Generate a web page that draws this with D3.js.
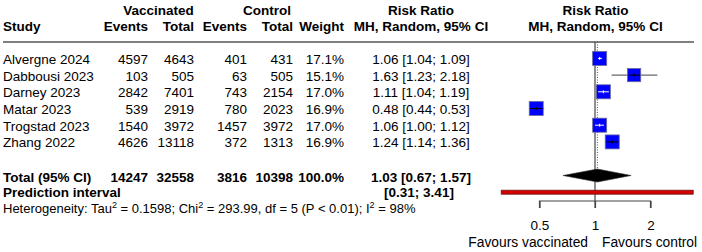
<!DOCTYPE html>
<html><head><meta charset="utf-8">
<script src="https://cdn.jsdelivr.net/npm/d3@7"></script>
<style>body{margin:0;background:#fff}svg{display:block;font-family:"Liberation Sans",Arial,sans-serif}</style>
</head><body><svg id="c" width="702" height="252"></svg>
<script>
const studies = ["Alvergne 2024","Dabbousi 2023","Darney 2023","Matar 2023","Trogstad 2023","Zhang 2022"];
const vacEvents = [4597,103,2842,539,1540,4626];
const vacTotal = [4643,505,7401,2919,3972,13118];
const ctlEvents = [401,63,743,780,1457,372];
const ctlTotal = [431,505,2154,2023,3972,1313];
const weights = [17.1,15.1,17.0,16.9,17.0,16.9];
const rr = [1.06,1.63,1.11,0.48,1.06,1.24];
const lo = [1.04,1.23,1.04,0.44,1.00,1.14];
const hi = [1.09,2.18,1.19,0.53,1.12,1.36];
const total = {label:"Total (95% CI)", vacEvents:14247, vacTotal:32558, ctlEvents:3816, ctlTotal:10398, weight:"100.0%", rr:1.03, lo:0.67, hi:1.57};
const predLo = 0.31, predHi = 3.41;
const ticks = [0.5,1,2];

const svg = d3.select("#c");
const fs = 13.5;
const x = d3.scaleLog().base(2).domain([0.5,2]).range([539.5,650.5]);
const y = d3.scaleLinear().domain([0,1]).range([58.4,75.1]);
const yTot = 175.5, yPred = 192.2;
const fmt2 = d3.format(".2f");

function txt(t, xx, yy, anchor, bold, size){
  return svg.append("text").attr("x",xx).attr("y",yy).attr("dy","0.35em")
    .attr("text-anchor",anchor||"start").attr("font-size",size||fs)
    .attr("font-weight",bold?"bold":"normal").attr("fill","#000").text(t);
}
const colX = {study:3, ve:148, vt:194, ce:247, ct:293, w:344, rr:421};

// headers
txt("Vaccinated",158.5,10.3,"middle",true);
txt("Control",267,10.3,"middle",true);
txt("Risk Ratio",421,10.3,"middle",true);
txt("Risk Ratio",595.5,10.3,"middle",true);
txt("Study",colX.study,26,"start",true);
txt("Events",colX.ve,26,"end",true);
txt("Total",colX.vt,26,"end",true);
txt("Events",colX.ce,26,"end",true);
txt("Total",colX.ct,26,"end",true);
txt("Weight",colX.w,26,"end",true);
txt("MH, Random, 95% CI",421,26,"middle",true);
txt("MH, Random, 95% CI",595.5,26,"middle",true);

// header rule
svg.append("line").attr("x1",3).attr("x2",694).attr("y1",42).attr("y2",42)
  .attr("stroke","#555").attr("stroke-width",1.3);

// study rows
studies.forEach((s,i)=>{
  const yy = y(i)+0.7;
  txt(s,colX.study,yy);
  txt(vacEvents[i],colX.ve,yy,"end");
  txt(vacTotal[i],colX.vt,yy,"end");
  txt(ctlEvents[i],colX.ce,yy,"end");
  txt(ctlTotal[i],colX.ct,yy,"end");
  txt(weights[i].toFixed(1)+"%",colX.w,yy,"end");
  txt(`${fmt2(rr[i])} [${fmt2(lo[i])}; ${fmt2(hi[i])}]`,colX.rr,yy,"middle");
});

// total rows
const yT = 176.8;
txt(total.label,colX.study,yT,"start",true);
txt(total.vacEvents,colX.ve,yT,"end",true);
txt(total.vacTotal,colX.vt,yT,"end",true);
txt(total.ctlEvents,colX.ce,yT,"end",true);
txt(total.ctlTotal,colX.ct,yT,"end",true);
txt(total.weight,colX.w,yT,"end",true);
txt(`${fmt2(total.rr)} [${fmt2(total.lo)}; ${fmt2(total.hi)}]`,colX.rr,yT,"middle",true);
txt("Prediction interval",colX.study,192.6,"start",true);
txt(`[${fmt2(predLo)}; ${fmt2(predHi)}]`,colX.rr-2,192.6,"middle",true);

// heterogeneity
const ht = svg.append("text").attr("x",3).attr("y",208.6).attr("dy","0.35em").attr("font-size",13).attr("fill","#000");
const parts = [["Heterogeneity: Tau",0],["2",1],[" = 0.1598; Chi",0],["2",1],[" = 293.99, df = 5 (P < 0.01); I",0],["2",1],[" = 98%",0]];
parts.forEach(p=>{
  const t = ht.append("tspan").text(p[0]);
  if(p[1]) t.attr("font-size",9).attr("baseline-shift","super");
});

// reference lines
svg.append("line").attr("x1",x(1)).attr("x2",x(1)).attr("y1",42).attr("y2",208)
  .attr("stroke","#444").attr("stroke-width",1.2);
svg.append("line").attr("x1",x(total.rr)).attr("x2",x(total.rr)).attr("y1",42).attr("y2",yTot-6)
  .attr("stroke","#555").attr("stroke-width",1).attr("stroke-dasharray","1,1.5");

// study CIs and squares
const innerCol = ["#fff","#000","#fff","#000","#fff","#000"];
studies.forEach((s,i)=>{
  const yy = y(i);
  const side = 3.4*Math.sqrt(weights[i]);
  svg.append("line").attr("x1",x(lo[i])).attr("x2",x(hi[i])).attr("y1",yy).attr("y2",yy)
    .attr("stroke","#444").attr("stroke-width",1);
  svg.append("rect").attr("x",x(rr[i])-side/2).attr("y",yy-side/2).attr("width",side).attr("height",side)
    .attr("fill","#0000ff").attr("stroke","#6a6a9a").attr("stroke-width",0.8);
  const l1 = Math.max(x(lo[i]),x(rr[i])-side/2+1), l2 = Math.min(x(hi[i]),x(rr[i])+side/2-1);
  svg.append("line").attr("x1",l1).attr("x2",l2).attr("y1",yy).attr("y2",yy)
    .attr("stroke",innerCol[i]).attr("stroke-width",1);
  svg.append("line").attr("x1",x(rr[i])).attr("x2",x(rr[i])).attr("y1",yy-1.5).attr("y2",yy+1.5)
    .attr("stroke",innerCol[i]).attr("stroke-width",1);
});

// diamond
svg.append("path").attr("d",`M${x(total.lo)},${yTot} L${x(total.rr)},${yTot-6.5} L${x(total.hi)},${yTot} L${x(total.rr)},${yTot+6.5} Z`)
  .attr("fill","#000").attr("stroke","#333").attr("stroke-width",0.6);

// prediction interval
svg.append("rect").attr("x",x(predLo)).attr("y",yPred-2).attr("width",x(predHi)-x(predLo)).attr("height",4)
  .attr("fill","#d40000").attr("stroke","#6b1a1a").attr("stroke-width",0.8);

// axis bracket
const axG = svg.append("g").attr("transform","translate(0,201)");
const axis = d3.axisBottom(x).tickValues(ticks).tickFormat(d=>String(d)).tickSize(7).tickPadding(12);
axG.call(axis);
axG.select(".domain").attr("d",`M${x(0.5)},7V0H${x(2)}V7`).attr("stroke","#444").attr("stroke-width",1.2);
axG.selectAll(".tick line").attr("stroke","#444").attr("stroke-width",1.2);
axG.selectAll(".tick text").attr("font-size",fs).attr("font-family","Liberation Sans, Arial, sans-serif").attr("fill","#000");

txt("Favours vaccinated",588,242.5,"end",false,13.8);
txt("Favours control",602,242.5,"start",false,13.8);
</script></body></html>
